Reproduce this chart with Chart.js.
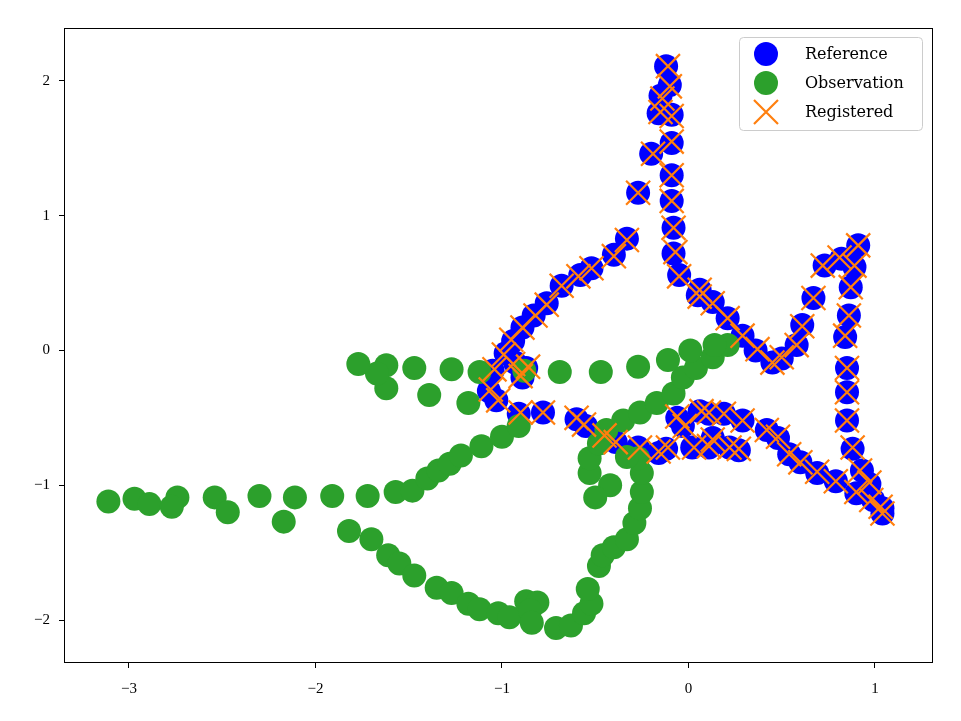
<!DOCTYPE html>
<html>
<head>
<meta charset="utf-8">
<script src="https://cdn.jsdelivr.net/npm/chart.js@4/dist/chart.umd.min.js"></script>
<style>
  body { margin: 0; background: #fff; }
  #wrap { width: 961px; height: 721px; }
</style>
</head>
<body>
<div id="wrap"><canvas id="chart" width="961" height="721"></canvas></div>
<script>
// series data
const refX = [-0.12,-0.10,-0.15,-0.16,-0.09,-0.09,-0.20,-0.09,-0.27,-0.09,-0.08,-0.08,-0.05,0.06,0.05,0.13,0.21,0.29,0.36,0.45,0.50,0.58,0.61,0.67,0.73,0.82,0.91,0.89,0.87,0.86,0.84,0.85,0.85,0.85,0.88,0.93,0.97,0.90,0.99,1.04,1.04,0.79,0.69,0.60,0.54,0.48,0.42,0.29,0.19,0.11,0.06,-0.06,-0.03,0.27,0.22,0.13,0.02,-0.12,0.11,
  -0.33,-0.40,-0.52,-0.58,-0.68,-0.76,-0.83,-0.89,-0.94,-0.98,-0.87,-0.89,-1.05,-1.07,-1.03,-0.91,-0.78,-0.60,-0.55,-0.44,-0.39,-0.27,-0.16,-0.93];
const refY = [2.11,1.97,1.89,1.76,1.75,1.54,1.46,1.30,1.17,1.11,0.91,0.72,0.56,0.45,0.41,0.36,0.24,0.11,0.00,-0.09,-0.06,0.04,0.19,0.39,0.63,0.68,0.78,0.62,0.47,0.26,0.10,-0.13,-0.31,-0.52,-0.73,-0.89,-0.99,-1.06,-1.11,-1.17,-1.21,-0.97,-0.91,-0.83,-0.77,-0.65,-0.59,-0.52,-0.47,-0.47,-0.45,-0.50,-0.56,-0.74,-0.72,-0.65,-0.72,-0.73,-0.72,
  0.83,0.71,0.61,0.56,0.48,0.35,0.26,0.17,0.07,-0.02,-0.13,-0.20,-0.15,-0.30,-0.37,-0.47,-0.46,-0.51,-0.56,-0.63,-0.68,-0.72,-0.76,-0.09];

const obsX = [-3.11,-2.97,-2.89,-2.74,-2.77,-2.54,-2.47,-2.30,-2.11,-2.17,-1.91,-1.72,-1.57,-1.48,-1.40,-1.34,-1.28,-1.22,-1.11,-1.00,-0.91,
  -1.82,-1.70,-1.61,-1.55,-1.47,-1.35,-1.27,-1.18,-1.12,-1.02,-0.96,-0.87,-0.81,-0.85,-0.84,-0.71,-0.63,-0.56,-0.52,-0.54,-0.48,-0.46,-0.40,-0.33,-0.29,-0.26,-0.25,-0.25,-0.27,
  -0.33,-0.42,-0.50,-0.53,-0.53,-0.48,-0.44,-0.35,-0.26,-0.17,-0.08,-0.03,0.04,0.13,0.21,0.14,0.01,-0.11,-0.27,-0.47,
  -0.69,-0.88,-1.12,-1.27,-1.18,-1.39,-1.47,-1.62,-1.62,-1.67,-1.77];
const obsY = [-1.12,-1.10,-1.14,-1.09,-1.16,-1.09,-1.20,-1.08,-1.09,-1.27,-1.08,-1.08,-1.05,-1.04,-0.95,-0.89,-0.84,-0.78,-0.71,-0.64,-0.56,
  -1.34,-1.40,-1.52,-1.58,-1.67,-1.76,-1.80,-1.88,-1.92,-1.95,-1.98,-1.86,-1.87,-1.93,-2.02,-2.06,-2.04,-1.95,-1.88,-1.77,-1.60,-1.52,-1.46,-1.40,-1.28,-1.17,-1.05,-0.91,-0.80,
  -0.79,-1.00,-1.09,-0.91,-0.80,-0.69,-0.59,-0.52,-0.46,-0.39,-0.32,-0.20,-0.13,-0.05,0.04,0.04,0.00,-0.07,-0.12,-0.16,
  -0.16,-0.15,-0.16,-0.14,-0.39,-0.33,-0.13,-0.28,-0.11,-0.17,-0.10];

const regX = [-0.11,-0.10,-0.14,-0.15,-0.09,-0.09,-0.19,-0.09,-0.27,-0.09,-0.08,-0.07,-0.05,0.06,0.06,0.13,0.21,0.29,0.37,0.45,0.50,0.58,0.61,0.67,0.72,0.81,0.91,0.89,0.87,0.86,0.84,0.85,0.85,0.85,0.88,0.92,0.97,0.90,0.98,1.03,1.04,0.79,0.69,0.60,0.54,0.48,0.42,0.29,0.19,0.11,0.07,-0.06,-0.02,0.27,0.22,0.13,0.03,-0.11,0.11,
  -0.33,-0.40,-0.52,-0.59,-0.68,-0.76,-0.82,-0.89,-0.95,-0.99,-0.86,-0.90,-1.04,-1.06,-1.02,-0.90,-0.78,-0.60,-0.56,-0.45,-0.39,-0.26,-0.16,-0.94];
const regY = [2.11,1.96,1.87,1.77,1.74,1.55,1.46,1.30,1.17,1.11,0.91,0.73,0.55,0.45,0.40,0.35,0.24,0.11,0.01,-0.09,-0.05,0.04,0.18,0.39,0.63,0.69,0.78,0.63,0.47,0.26,0.11,-0.13,-0.31,-0.52,-0.72,-0.89,-0.98,-1.05,-1.11,-1.16,-1.21,-0.97,-0.90,-0.83,-0.77,-0.64,-0.59,-0.52,-0.47,-0.46,-0.45,-0.49,-0.56,-0.73,-0.72,-0.66,-0.72,-0.72,-0.71,
  0.82,0.70,0.61,0.55,0.48,0.34,0.26,0.17,0.08,-0.03,-0.12,-0.19,-0.14,-0.29,-0.37,-0.46,-0.46,-0.50,-0.55,-0.63,-0.68,-0.72,-0.75,-0.10];

const xTicks = [-3, -2, -1, 0, 1];
const yTicks = [-2, -1, 0, 1, 2];

const FONT = '"Liberation Serif", "DejaVu Serif", serif';
const LEGEND_FONT = '"DejaVu Serif", "Liberation Serif", serif';

function toPoints(xs, ys) {
  return xs.map((x, i) => ({ x: x, y: ys[i] }));
}

function fmtTick(v) {
  return v < 0 ? "\u2212" + Math.abs(v) : String(v);
}

// box around the whole plot area
const framePlugin = {
  id: "frame",
  afterDraw(chart) {
    const a = chart.chartArea;
    const ctx = chart.ctx;
    ctx.save();
    ctx.strokeStyle = "#000";
    ctx.lineWidth = 1;
    ctx.strokeRect(Math.round(a.left) + 0.5, Math.round(a.top) + 0.5,
      Math.round(a.right - a.left) - 1, Math.round(a.bottom - a.top) - 1);
    ctx.restore();
  }
};

// matplotlib-style legend inside the top-right corner
const legendPlugin = {
  id: "innerLegend",
  afterDraw(chart) {
    const a = chart.chartArea;
    const ctx = chart.ctx;
    const w = 183, h = 93;
    const x0 = Math.round(a.right - 11 - w), y0 = Math.round(a.top + 9);
    ctx.save();
    ctx.fillStyle = "rgba(255,255,255,0.8)";
    ctx.strokeStyle = "#cccccc";
    ctx.lineWidth = 1;
    ctx.beginPath();
    ctx.roundRect(x0 + 0.5, y0 + 0.5, w, h, 4);
    ctx.fill();
    ctx.stroke();

    ctx.font = "16px " + LEGEND_FONT;
    ctx.textBaseline = "middle";
    chart.data.datasets.forEach((ds, i) => {
      const cy = y0 + 17 + i * 29;
      const cx = x0 + 27;
      if (ds.pointStyle === "crossRot") {
        ctx.strokeStyle = ds.borderColor;
        ctx.lineWidth = 2.2;
        const r = 12;
        ctx.beginPath();
        ctx.moveTo(cx - r, cy - r); ctx.lineTo(cx + r, cy + r);
        ctx.moveTo(cx + r, cy - r); ctx.lineTo(cx - r, cy + r);
        ctx.stroke();
      } else {
        ctx.fillStyle = ds.backgroundColor;
        ctx.beginPath();
        ctx.arc(cx, cy, 12, 0, Math.PI * 2);
        ctx.fill();
      }
      ctx.fillStyle = "#000";
      ctx.fillText(ds.label, x0 + 66, cy + 1);
    });
    ctx.restore();
  }
};

const axisCommon = {
  type: "linear",
  grid: { display: true, drawOnChartArea: false, drawTicks: true, tickLength: 5, color: "#000" },
  border: { display: false },
  ticks: { color: "#000", font: { family: FONT, size: 15 }, callback: fmtTick }
};

new Chart(document.getElementById("chart"), {
  type: "scatter",
  data: {
    datasets: [
      {
        label: "Reference",
        data: toPoints(refX, refY),
        backgroundColor: "#0000ff",
        borderWidth: 0,
        pointRadius: 12,
        pointHoverRadius: 12,
        order: 3
      },
      {
        label: "Observation",
        data: toPoints(obsX, obsY),
        backgroundColor: "#2ca02c",
        borderWidth: 0,
        pointRadius: 12,
        pointHoverRadius: 12,
        order: 2
      },
      {
        label: "Registered",
        data: toPoints(regX, regY),
        pointStyle: "crossRot",
        borderColor: "#ff7f0e",
        backgroundColor: "#ff7f0e",
        borderWidth: 2.2,
        pointRadius: 17,
        pointHoverRadius: 17,
        order: 1
      }
    ]
  },
  options: {
    responsive: false,
    animation: false,
    layout: { padding: { top: 28, right: 28, left: 0, bottom: 0 } },
    plugins: {
      legend: { display: false },
      tooltip: { enabled: false }
    },
    scales: {
      x: Object.assign({}, axisCommon, {
        min: -3.348,
        max: 1.311,
        ticks: Object.assign({}, axisCommon.ticks, { padding: 12, maxRotation: 0 }),
        afterBuildTicks: s => { s.ticks = xTicks.map(v => ({ value: v })); },
        afterFit: s => { s.height = 58; }
      }),
      y: Object.assign({}, axisCommon, {
        min: -2.319,
        max: 2.393,
        ticks: Object.assign({}, axisCommon.ticks, { padding: 9 }),
        afterBuildTicks: s => { s.ticks = yTicks.map(v => ({ value: v })); },
        afterFit: s => { s.width = 64; }
      })
    }
  },
  plugins: [framePlugin, legendPlugin]
});
</script>
</body>
</html>
